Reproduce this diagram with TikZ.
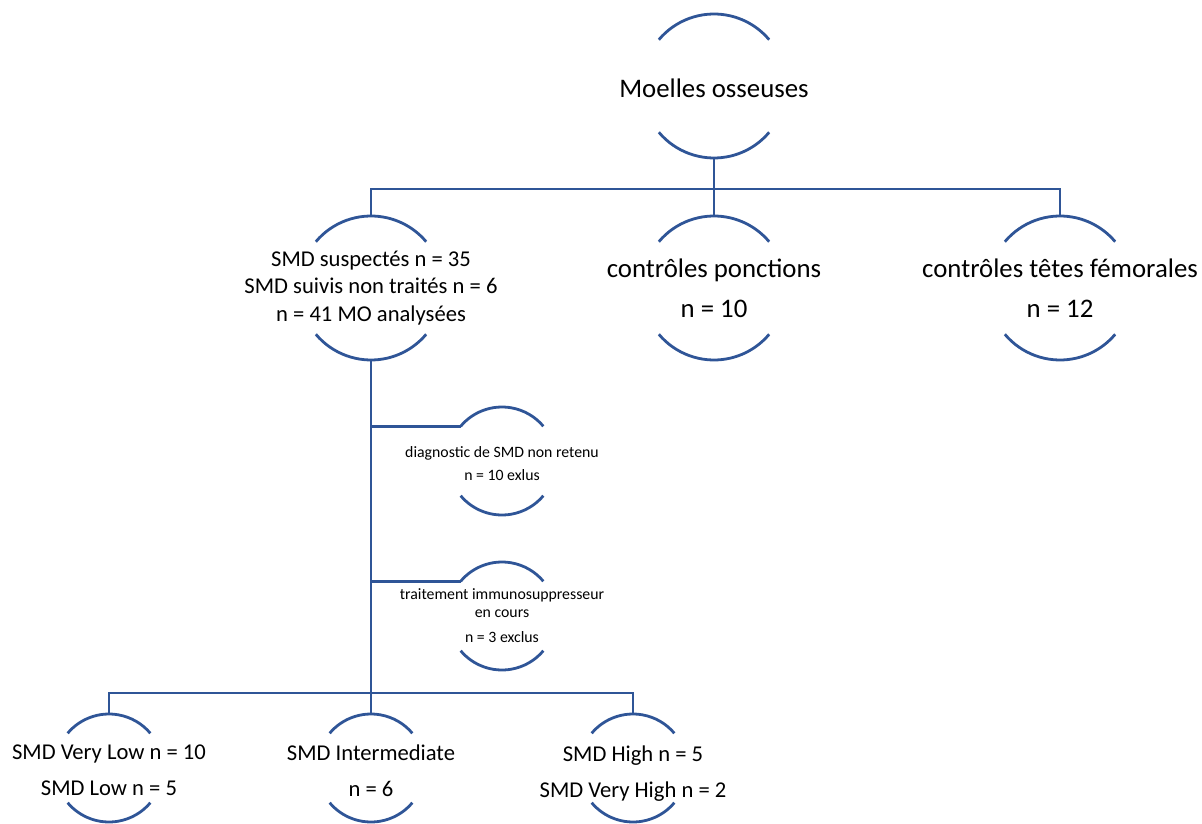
\documentclass[tikz,border=0pt]{standalone}
\usepackage{fontspec}
\setmainfont{Carlito}
\usepackage{xcolor}
\usepackage{tikz}
\definecolor{arcblue}{RGB}{47,85,151}

\begin{document}
\begin{tikzpicture}[every text node part/.style={align=center}, x=0.5pt, y=0.5pt]
	\tikzstyle{ring} = [circle, inner sep=0pt, outer sep=0pt, minimum size=72pt]
	\tikzstyle{sring} = [circle, inner sep=0pt, outer sep=0pt, minimum size=54pt]
	\tikzstyle{big} = [font=\fontsize{13.4}{20}\selectfont, inner sep=0pt]
	\tikzstyle{mid} = [font=\fontsize{11.3}{13.75}\selectfont, inner sep=0pt]
	\tikzstyle{low} = [font=\fontsize{11.3}{18}\selectfont, inner sep=0pt, yshift=-1.2pt]
	\tikzstyle{small} = [font=\fontsize{7.9}{11.5}\selectfont, inner sep=0pt]
	\tikzstyle{link} = [draw=arcblue, line width=1.4pt]
	\useasboundingbox (0,0) rectangle (1202,-823);

	\path (714,-86) node[ring] (mo) {} node[big, yshift=-1pt] (mo-t) {Moelles osseuses};
	\path (371,-288) node[ring] (smd) {} node[mid] (smd-t) {SMD suspectés n = 35\\SMD suivis non traités n = 6\\n = 41 MO analysées};
	\path (714,-288) node[ring] (pon) {} node[big] (pon-t) {contrôles ponctions\\n = 10};
	\path (1060,-288) node[ring] (tf) {} node[big] (tf-t) {contrôles têtes fémorales\\n = 12};
	\path (502,-461) node[sring] (dia) {} node[small, yshift=-1.5pt] (dia-t) {diagnostic de SMD non retenu\\n = 10 exlus};
	\path (502,-616) node[sring] (imm) {} node[small, font=\fontsize{7.9}{9}\selectfont] (imm-t) {traitement immunosuppresseur\\en cours\\[3.5pt]n = 3 exclus};
	\path (109,-768) node[sring] (vl) {} node[low] (vl-t) {SMD Very Low n = 10\\SMD Low n = 5};
	\path (371,-768) node[sring] (int) {} node[low] (int-t) {SMD Intermediate\\n = 6};
	\path (633,-768) node[sring] (hi) {} node[low, yshift=-1.5pt] (hi-t) {SMD High n = 5\\SMD Very High n = 2};

	\path[link] (mo.140) arc[start angle=140, end angle=40, radius=36pt];
	\path[link] (mo.220) arc[start angle=220, end angle=320, radius=36pt];
	\path[link] (smd.140) arc[start angle=140, end angle=40, radius=36pt];
	\path[link] (smd.220) arc[start angle=220, end angle=320, radius=36pt];
	\path[link] (pon.140) arc[start angle=140, end angle=40, radius=36pt];
	\path[link] (pon.220) arc[start angle=220, end angle=320, radius=36pt];
	\path[link] (tf.140) arc[start angle=140, end angle=40, radius=36pt];
	\path[link] (tf.220) arc[start angle=220, end angle=320, radius=36pt];

	\path[link] (dia.140) arc[start angle=140, end angle=40, radius=27pt];
	\path[link] (dia.220) arc[start angle=220, end angle=320, radius=27pt];
	\path[link] (imm.140) arc[start angle=140, end angle=40, radius=27pt];
	\path[link] (imm.220) arc[start angle=220, end angle=320, radius=27pt];
	\path[link] (vl.140) arc[start angle=140, end angle=40, radius=27pt];
	\path[link] (vl.220) arc[start angle=220, end angle=320, radius=27pt];
	\path[link] (int.140) arc[start angle=140, end angle=40, radius=27pt];
	\path[link] (int.220) arc[start angle=220, end angle=320, radius=27pt];
	\path[link] (hi.140) arc[start angle=140, end angle=40, radius=27pt];
	\path[link] (hi.220) arc[start angle=220, end angle=320, radius=27pt];

	\coordinate (top-bar) at (714,-189);
	\coordinate (low-bar) at (371,-693);
	\path[link] (mo.south) -- (top-bar);
	\path[link] (smd.north) |- (top-bar) -| (tf.north);
	\path[link] (top-bar) -- (pon.north);
	\path[link] (smd.south) -- (low-bar);
	\path[link] (dia.140) -- (dia.140 -| smd.south);
	\path[link] (imm.140) -- (imm.140 -| smd.south);
	\path[link] (vl.north) |- (low-bar) -| (hi.north);
	\path[link] (low-bar) -- (int.north);
\end{tikzpicture}
\end{document}
